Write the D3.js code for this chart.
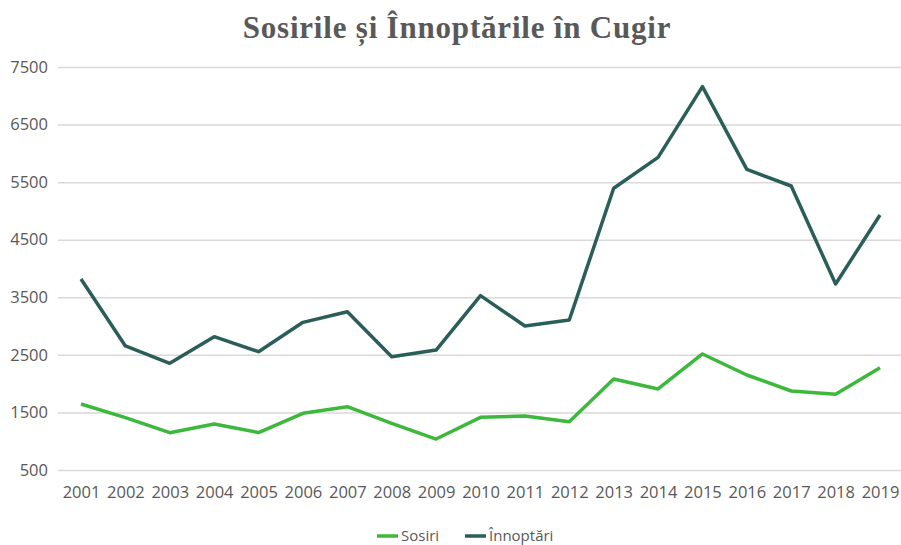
<!DOCTYPE html>
<html>
<head>
<meta charset="utf-8">
<script src="https://cdn.jsdelivr.net/npm/d3@7"></script>
<style>
  body { margin: 0; background: #fff; }
  svg { display: block; }
</style>
</head>
<body>
<script>
// dati
var years = ["2001","2002","2003","2004","2005","2006","2007","2008","2009","2010",
             "2011","2012","2013","2014","2015","2016","2017","2018","2019"];
var sosiri = [1646, 1410, 1148, 1299, 1150, 1485, 1600, 1311, 1038, 1415,
              1438, 1339, 2081, 1907, 2515, 2150, 1872, 1815, 2277];
var innoptari = [3818, 2654, 2353, 2816, 2555, 3065, 3250, 2468, 2584, 3528,
                 3001, 3105, 5393, 5931, 7158, 5723, 5433, 3731, 4929];
var yTicks = [500, 1500, 2500, 3500, 4500, 5500, 6500, 7500];
var seriesNames = ["Sosiri", "Înnoptări"];

var colour = ["#3cb93c", "#2b5e58"];
var textColour = "#595959";
var gridColour = "#d9d9d9";

var totalWidth = 901, totalHeight = 545;

var svg = d3.select("body").append("svg")
  .attr("width", totalWidth)
  .attr("height", totalHeight);

// scale
var x = d3.scalePoint().domain(years).range([81, 880]);
var y = d3.scaleLinear().domain([500, 7500]).range([470, 67]);

// titolo
svg.append("text")
  .attr("x", 457)
  .attr("y", 38)
  .attr("text-anchor", "middle")
  .style("font-family", "'Liberation Serif', 'Times New Roman', serif")
  .style("font-weight", "bold")
  .style("font-size", "31px")
  .style("letter-spacing", "0.8px")
  .attr("fill", textColour)
  .text("Sosirile și Înnoptările în Cugir");

// griglia + etichette asse y
var yAxis = d3.axisLeft(y).tickValues(yTicks).tickSize(-(901 - 58)).tickPadding(10).tickFormat(d3.format("d"));
var gy = svg.append("g")
  .attr("transform", "translate(58,0)")
  .call(yAxis);
gy.select(".domain").remove();
gy.selectAll(".tick line").attr("stroke", gridColour).attr("stroke-width", 1.5);
gy.selectAll(".tick text")
  .attr("fill", textColour)
  .style("font-family", "'Open Sans', sans-serif")
  .style("font-size", "16.5px");

// asse x (solo etichette)
var xAxis = d3.axisBottom(x).tickSize(0).tickPadding(16);
var gx = svg.append("g")
  .attr("transform", "translate(0,470)")
  .call(xAxis);
gx.select(".domain").remove();
gx.selectAll(".tick text")
  .attr("fill", textColour)
  .style("font-family", "'Open Sans', sans-serif")
  .style("font-size", "16.5px");

// linee
var line = d3.line()
  .x(function(d, i) { return x(years[i]); })
  .y(function(d) { return y(d); });

[sosiri, innoptari].forEach(function(s, k) {
  svg.append("path")
    .datum(s)
    .attr("d", line)
    .attr("fill", "none")
    .attr("stroke", colour[k])
    .attr("stroke-width", 3.5)
    .attr("stroke-linejoin", "round");
});

// legenda
var legendX = [377, 465];
seriesNames.forEach(function(name, k) {
  var g = svg.append("g").attr("transform", "translate(" + legendX[k] + ",536)");
  g.append("line")
    .attr("x1", 0).attr("x2", 21)
    .attr("stroke", colour[k])
    .attr("stroke-width", 3.5);
  g.append("text")
    .attr("x", 24)
    .attr("y", 4.5)
    .attr("fill", textColour)
    .style("font-family", "'Open Sans', sans-serif")
    .style("font-size", "15px")
    .text(name);
});
</script>
</body>
</html>
